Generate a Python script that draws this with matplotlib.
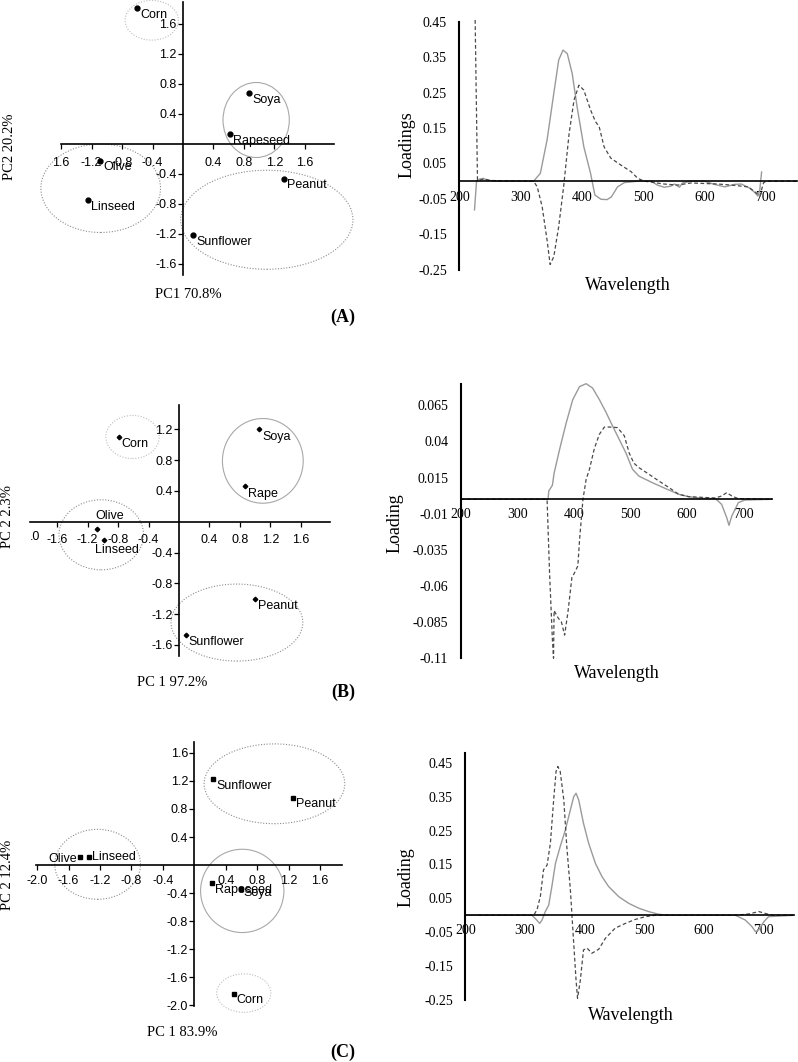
import matplotlib
matplotlib.use("Agg")
import matplotlib.pyplot as plt
from matplotlib.patches import Ellipse

W, H = 798, 1062

# ---------------- score plots (left column) ----------------
oils_a = ["Corn", "Soya", "Rapeseed", "Olive", "Linseed", "Peanut", "Sunflower"]
pc1_a = [-0.60, 0.87, 0.62, -1.09, -1.25, 1.33, 0.135]
pc2_a = [1.81, 0.675, 0.13, -0.22, -0.75, -0.46, -1.21]

oils_b = ["Corn", "Soya", "Rape", "Olive", "Linseed", "Peanut", "Sunflower"]
pc1_b = [-0.79, 1.05, 0.86, -1.07, -0.99, 1.00, 0.09]
pc2_b = [1.10, 1.20, 0.46, -0.09, -0.24, -1.00, -1.47]

oils_c = ["Sunflower", "Peanut", "Olive", "Linseed", "Rapeseed", "Soya", "Corn"]
pc1_c = [0.24, 1.25, -1.46, -1.34, 0.23, 0.59, 0.50]
pc2_c = [1.23, 0.96, 0.12, 0.12, -0.25, -0.34, -1.84]

# cluster ellipses: centre x, centre y, width, height (score units)
ell_a_x = [-0.41, 0.96, -1.08, 1.10]
ell_a_y = [1.65, 0.32, -0.59, -1.01]
ell_a_w = [0.70, 0.87, 1.57, 2.26]
ell_a_h = [0.53, 1.00, 1.18, 1.32]

ell_b_x = [-0.61, 1.10, -1.02, 0.76]
ell_b_y = [1.10, 0.79, -0.17, -1.31]
ell_b_w = [0.70, 1.06, 1.11, 1.73]
ell_b_h = [0.56, 1.10, 0.91, 1.00]

ell_c_x = [0.63, 0.61, -1.23, 1.02]
ell_c_y = [-1.83, -0.37, 0.01, 1.16]
ell_c_w = [0.69, 1.06, 1.09, 1.79]
ell_c_h = [0.55, 1.19, 1.00, 1.14]

# tick labels
xt_a = [-1.6, -1.2, -0.8, -0.4, 0.4, 0.8, 1.2, 1.6]
xl_a = ["1.6", "-1.2", "-0.8", "-0.4", "0.4", "0.8", "1.2", "1.6"]
yt_a = [1.6, 1.2, 0.8, 0.4, -0.4, -0.8, -1.2, -1.6]
yl_a = ["1.6", "1.2", "0.8", "0.4", "-0.4", "-0.8", "-1.2", "-1.6"]

xt_b = [-1.6, -1.2, -0.8, -0.4, 0.4, 0.8, 1.2, 1.6]
xl_b = ["-1.6", "-1.2", "-0.8", "-0.4", "0.4", "0.8", "1.2", "1.6"]
yt_b = [1.2, 0.8, 0.4, -0.4, -0.8, -1.2, -1.6]
yl_b = ["1.2", "0.8", "0.4", "-0.4", "-0.8", "-1.2", "-1.6"]

xt_c = [-2.0, -1.6, -1.2, -0.8, -0.4, 0.4, 0.8, 1.2, 1.6]
xl_c = ["-2.0", "-1.6", "-1.2", "-0.8", "-0.4", "0.4", "0.8", "1.2", "1.6"]
yt_c = [1.6, 1.2, 0.8, 0.4, -0.4, -0.8, -1.2, -1.6, -2.0]
yl_c = ["1.6", "1.2", "0.8", "0.4", "-0.4", "-0.8", "-1.2", "-1.6", "-2.0"]

# ---------------- loadings (right column) ----------------
wl_a1 = [224.6, 228, 233, 239, 245, 260, 321, 332, 343, 354, 362, 369, 376, 384, 392, 403,
         414, 421, 431, 441, 448, 458, 469, 491, 513, 523, 534, 545, 551, 559, 564, 578,
         600, 616, 633, 649, 660, 674, 682, 687, 690, 693]
ld_a1 = [-0.081, 0.0, 0.006, 0.008, 0.003, 0, 0, 0.022, 0.116, 0.248, 0.342, 0.370, 0.36,
         0.304, 0.21, 0.097, 0.022, -0.039, -0.051, -0.052, -0.044, -0.016, -0.004, 0, 0,
         -0.011, -0.017, -0.014, -0.008, -0.017, -0.005, 0, 0, -0.009, -0.016, -0.009,
         -0.008, -0.02, -0.032, -0.042, -0.025, 0.026]
wl_a2 = [225.7, 229.5, 235, 242, 250, 321, 327, 335, 343, 348, 354, 362, 370, 379, 387, 395,
         403, 414, 422, 428, 436, 447, 463, 480, 491, 502, 534, 556, 578, 622, 644, 671,
         682, 690, 696, 700, 750]
ld_a2 = [0.455, 0.003, 0.004, 0.006, 0.002, 0, -0.016, -0.072, -0.166, -0.235, -0.213,
         -0.128, -0.016, 0.135, 0.229, 0.271, 0.257, 0.201, 0.168, 0.154, 0.097, 0.065,
         0.046, 0.027, 0.008, 0, -0.008, -0.011, -0.005, -0.008, -0.011, -0.016, -0.03,
         -0.042, -0.005, 0, 0]

wl_b1 = [200, 354.4, 355.6, 362, 365, 375, 386.5, 398, 410, 421.6, 433, 445, 457, 468, 480,
         492, 503.5, 515, 538.6, 562, 585, 603, 626, 650, 661, 670, 674, 679, 690.6, 702, 750]
ld_b1 = [0, 0, 0.0058, 0.0097, 0.018, 0.035, 0.053, 0.069, 0.078, 0.080, 0.077, 0.069,
         0.060, 0.051, 0.0415, 0.032, 0.0208, 0.016, 0.0115, 0.0074, 0.0035, 0.0018, 0.0007,
         0.0005, -0.0035, -0.0127, -0.018, -0.0115, -0.0023, -0.0005, 0]
wl_b2 = [200, 352.6, 357, 362, 364, 365, 372, 378, 383.6, 389.5, 396.5, 401, 407, 410, 416,
         421.6, 427.5, 436, 445, 453.8, 462.6, 477, 489, 497.7, 506, 515, 532.7, 550, 568,
         585, 603, 650, 661, 670, 679, 690, 750]
ld_b2 = [0, 0, -0.051, -0.097, -0.11, -0.077, -0.082, -0.085, -0.094, -0.078, -0.054,
         -0.051, -0.046, -0.028, 0, 0.0138, 0.0208, 0.035, 0.045, 0.050, 0.050, 0.0496,
         0.044, 0.032, 0.025, 0.0219, 0.0173, 0.0127, 0.0081, 0.0035, 0.0018, 0.0009,
         0.0023, 0.0046, 0.0023, 0.0005, 0]

wl_c1 = [200, 311.7, 317, 324.6, 328.5, 334, 339.7, 345, 351, 359, 367.6, 376, 381.6, 385.5,
         390, 398, 406.7, 418, 429, 440, 457, 474, 490.5, 507, 524, 541, 652.5, 669, 680,
         686, 691.6, 700, 708, 750]
ld_c1 = [0, 0, -0.009, -0.024, -0.014, 0.011, 0.030, 0.085, 0.153, 0.203, 0.252, 0.311,
         0.350, 0.360, 0.340, 0.271, 0.212, 0.153, 0.114, 0.085, 0.055, 0.035, 0.021, 0.011,
         0.003, 0, 0, -0.014, -0.033, -0.048, -0.043, -0.019, -0.004, 0]
wl_c2 = [222, 314.5, 320, 325.7, 331, 337, 342.5, 348, 352, 355, 359, 365, 370, 376, 381.6,
         385.5, 388, 392.7, 398, 404, 412, 423.5, 434.6, 451, 468, 485, 501.7, 518, 652.5,
         675, 691.6, 705.6, 716.8, 750]
ld_c2 = [0, 0, 0.016, 0.055, 0.134, 0.148, 0.212, 0.340, 0.424, 0.439, 0.424, 0.340, 0.203,
         0.075, -0.083, -0.191, -0.245, -0.191, -0.102, -0.097, -0.112, -0.100, -0.068,
         -0.038, -0.024, -0.012, -0.004, 0, 0, 0.004, 0.011, 0.004, 0, 0]

wl_ticks = [200, 300, 400, 500, 600, 700]
ld_ticks_a = [0.45, 0.35, 0.25, 0.15, 0.05, -0.05, -0.15, -0.25]
ld_ticks_b = [0.065, 0.04, 0.015, -0.01, -0.035, -0.06, -0.085, -0.11]
ld_ticks_c = [0.45, 0.35, 0.25, 0.15, 0.05, -0.05, -0.15, -0.25]

SANS = "Liberation Sans"
SERIF = "Liberation Serif"

fig = plt.figure(figsize=(W / 100, H / 100), dpi=100)
fig.patch.set_facecolor("white")


def px_axes(left, top, right, bottom):
    return fig.add_axes([left / W, 1 - bottom / H, (right - left) / W, (bottom - top) / H])


def score_panel(ox, oy, sx, sy, xlim, ylim, xs, ys, names, offs, marker, ms,
                ex, ey, ew, eh, estyle, xt, xl, yt, yl, xpad):
    ax = px_axes(ox + xlim[0] * sx, oy - ylim[1] * sy, ox + xlim[1] * sx, oy - ylim[0] * sy)
    ax.set_xlim(xlim)
    ax.set_ylim(ylim)
    ax.patch.set_alpha(0)
    for s in ["top", "right"]:
        ax.spines[s].set_visible(False)
    for s in ["left", "bottom"]:
        ax.spines[s].set_position(("data", 0))
        ax.spines[s].set_linewidth(1.2)
    ax.set_xticks(xt, xl)
    ax.set_yticks(yt, yl)
    ax.tick_params(axis="x", direction="out", length=3.5, width=0.9, pad=xpad, labelsize=9)
    ax.tick_params(axis="y", direction="out", length=3.5, width=0.9, pad=1, labelsize=9)
    for t in ax.get_xticklabels() + ax.get_yticklabels():
        t.set_fontfamily(SANS)
    for cx, cy, w, h, (col, ls) in zip(ex, ey, ew, eh, estyle):
        ax.add_patch(Ellipse((cx, cy), w, h, fill=False, edgecolor=col, linestyle=ls,
                             linewidth=0.8, clip_on=False))
    ax.plot(xs, ys, linestyle="none", marker=marker, ms=ms, color="black", clip_on=False)
    for x, y, n, (dx, dy, ha) in zip(xs, ys, names, offs):
        ax.annotate(n, (x, y), xytext=(dx, dy), textcoords="offset pixels", ha=ha,
                    va="center", fontsize=9, family=SANS, annotation_clip=False)
    return ax


def loading_panel(ox, oy, sx, sy, ylim, w1, l1, w2, l2, yt, xpad):
    xlim = (200, 750)
    ax = px_axes(ox, oy - ylim[1] * sy, ox + (xlim[1] - xlim[0]) * sx, oy - ylim[0] * sy)
    ax.set_xlim(xlim)
    ax.set_ylim(ylim)
    ax.patch.set_alpha(0)
    for s in ["top", "right"]:
        ax.spines[s].set_visible(False)
    ax.spines["bottom"].set_position(("data", 0))
    ax.spines["bottom"].set_linewidth(1.2)
    ax.spines["left"].set_linewidth(1.5)
    ax.plot(w1, l1, color="#9a9a9a", lw=1.0, clip_on=False)
    ax.plot(w2, l2, color="#4a4a4a", lw=0.9, ls=(0, (3, 2)), clip_on=False)
    ax.set_xticks(wl_ticks, [str(v) for v in wl_ticks])
    ax.set_yticks(yt, [f"{v:g}" for v in yt])
    ax.tick_params(axis="x", length=0, pad=xpad, labelsize=10)
    ax.tick_params(axis="y", length=0, pad=9, labelsize=10)
    for t in ax.get_xticklabels() + ax.get_yticklabels():
        t.set_fontfamily(SERIF)
    return ax


# styles for the ellipses (colour, linestyle)
light_dot = ("#bdbdbd", (0, (1, 1.5)))
dot = ("#8c8c8c", (0, (1, 1.5)))
solid = ("#a8a8a8", "-")

off_a = [(3, -7, "left")] * 7
off_b = [(3, -7, "left"), (3, -8, "left"), (3, -8, "left"), (-2, 13, "left"),
         (-9, -10, "left"), (3, -7, "left"), (3, -7, "left")]
off_c = [(3, -7, "left"), (3, -6, "left"), (-3, -2, "right"), (3, 0, "left"),
         (3, -7, "left"), (3, -4, "left"), (3, -6, "left")]

# ---- (A) ----
score_panel(183, 144, 76.2, 75, (-1.6, 1.98), (-1.74, 1.9), pc1_a, pc2_a, oils_a, off_a,
            "o", 3.5, ell_a_x, ell_a_y, ell_a_w, ell_a_h, [light_dot, solid, dot, dot],
            xt_a, xl_a, yt_a, yl_a, 6)
loading_panel(459.4, 181.2, 0.613, 354.3, (-0.25, 0.45), wl_a1, ld_a1, wl_a2, ld_a2,
              ld_ticks_a, 7)

# ---- (B) ----
axb = score_panel(179, 521.7, 76.2, 77, (-1.96, 1.98), (-1.75, 1.51), pc1_b, pc2_b, oils_b,
                  off_b, "D", 2.3, ell_b_x, ell_b_y, ell_b_w, ell_b_h,
                  [light_dot, solid, dot, dot], xt_b, xl_b, yt_b, yl_b, 5)
axb.annotate(".0", (-1.96, 0), xytext=(0, -15), textcoords="offset pixels", ha="left",
             va="center", fontsize=9, family=SANS, annotation_clip=False)
loading_panel(460.7, 499.3, 0.566, 1445, (-0.11, 0.080), wl_b1, ld_b1, wl_b2, ld_b2,
              ld_ticks_b, 6)

# ---- (C) ----
score_panel(194.3, 865, 78.6, 70, (-2.01, 1.88), (-2.01, 1.76), pc1_c, pc2_c, oils_c, off_c,
            "s", 2.4, ell_c_x, ell_c_y, ell_c_w, ell_c_h, [light_dot, solid, dot, dot],
            xt_c, xl_c, yt_c, yl_c, 4)
loading_panel(465.3, 915.3, 0.597, 339, (-0.25, 0.48), wl_c1, ld_c1, wl_c2, ld_c2,
              ld_ticks_c, 6)

# ---- axis titles and panel letters (pixel positions) ----
def ftxt(x, y, s, **kw):
    fig.text(x / W, 1 - y / H, s, ha="center", va="center", **kw)


ftxt(10, 147, "PC2 20.2%", rotation=90, fontsize=10.5, family=SERIF)
ftxt(188, 294, "PC1 70.8%", fontsize=10.5, family=SERIF)
ftxt(343, 317, "(A)", fontsize=13, family=SERIF, fontweight="bold")
ftxt(407, 145, "Loadings", rotation=90, fontsize=13, family=SERIF)
ftxt(628, 285, "Wavelength", fontsize=13, family=SERIF)

ftxt(8, 516, "PC 2 2.3%", rotation=90, fontsize=10.5, family=SERIF)
ftxt(172, 683, "PC 1 97.2%", fontsize=10.5, family=SERIF)
ftxt(343, 692, "(B)", fontsize=13, family=SERIF, fontweight="bold")
ftxt(395, 523, "Loading", rotation=90, fontsize=13, family=SERIF)
ftxt(617, 673, "Wavelength", fontsize=13, family=SERIF)

ftxt(8, 875, "PC 2 12.4%", rotation=90, fontsize=10.5, family=SERIF)
ftxt(182, 1033, "PC 1 83.9%", fontsize=10.5, family=SERIF)
ftxt(343, 1052, "(C)", fontsize=13, family=SERIF, fontweight="bold")
ftxt(406, 877, "Loading", rotation=90, fontsize=13, family=SERIF)
ftxt(631, 1015, "Wavelength", fontsize=13, family=SERIF)

fig.savefig("out.png", dpi=100)
